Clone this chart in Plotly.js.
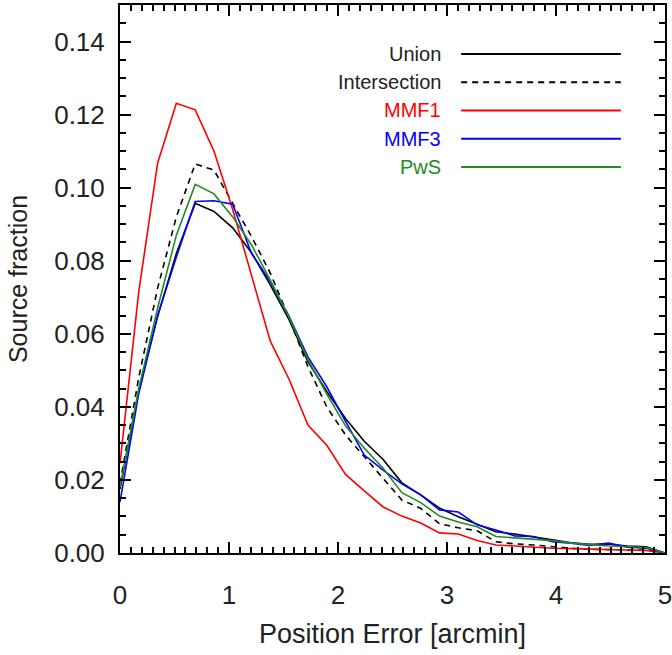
<!DOCTYPE html>
<html>
<head>
<meta charset="utf-8">
<script src="https://cdn.plot.ly/plotly-3.0.1.min.js"></script>
<style>
  html, body { margin: 0; padding: 0; background: #fff; }
  #chart { width: 672px; height: 655px; }
</style>
</head>
<body>
<div id="chart"></div>
<script>
// Position error bin values [arcmin]
const positionError = [0, 0.172, 0.345, 0.517, 0.690, 0.862, 1.034, 1.207, 1.379, 1.552,
  1.724, 1.897, 2.069, 2.241, 2.414, 2.586, 2.759, 2.931, 3.103, 3.276,
  3.448, 3.621, 3.793, 3.966, 4.138, 4.310, 4.483, 4.655, 4.828, 5.0];

const unionFrac = [0.0175, 0.0446, 0.0647, 0.0820, 0.0957, 0.0935, 0.0890, 0.0822, 0.0734, 0.0638,
  0.0524, 0.0442, 0.0368, 0.0306, 0.0256, 0.0192, 0.0159, 0.0123, 0.0099, 0.0078,
  0.0058, 0.0052, 0.0045, 0.0036, 0.0028, 0.0024, 0.0024, 0.0019, 0.0017, 0.0];

const intersectionFrac = [0.0190, 0.0480, 0.0725, 0.0920, 0.1065, 0.1048, 0.0957, 0.0866, 0.0766, 0.0643,
  0.0510, 0.0400, 0.0323, 0.0264, 0.0204, 0.0145, 0.0122, 0.0080, 0.0069, 0.0061,
  0.0031, 0.0025, 0.0022, 0.0017, 0.0013, 0.0010, 0.0009, 0.0009, 0.0008, 0.0];

const mmf1Frac = [0.0245, 0.0715, 0.1067, 0.1231, 0.1213, 0.1100, 0.0940, 0.0760, 0.0580, 0.0475,
  0.0350, 0.0295, 0.0215, 0.0170, 0.0126, 0.0101, 0.0082, 0.0055, 0.0052, 0.0034,
  0.0022, 0.0019, 0.0015, 0.0013, 0.0012, 0.0011, 0.0010, 0.0009, 0.0007, 0.0];

const mmf3Frac = [0.0140, 0.0436, 0.0650, 0.0810, 0.0962, 0.0964, 0.0955, 0.0820, 0.0743, 0.0647,
  0.0537, 0.0455, 0.0360, 0.0268, 0.0227, 0.0189, 0.0159, 0.0118, 0.0112, 0.0077,
  0.0063, 0.0047, 0.0045, 0.0031, 0.0027, 0.0021, 0.0027, 0.0016, 0.0013, 0.0];

const pwsFrac = [0.0180, 0.0450, 0.0670, 0.0870, 0.1009, 0.0983, 0.0920, 0.0843, 0.0747, 0.0645,
  0.0530, 0.0435, 0.0348, 0.0287, 0.0232, 0.0165, 0.0138, 0.0101, 0.0085, 0.0072,
  0.0045, 0.0042, 0.0038, 0.0034, 0.0027, 0.0022, 0.0019, 0.0017, 0.0015, 0.0];

const seriesNames = ['Union', 'Intersection', 'MMF1', 'MMF3', 'PwS'];
const seriesValues = [unionFrac, intersectionFrac, mmf1Frac, mmf3Frac, pwsFrac];
const seriesColors = ['#000000', '#000000', '#ff0000', '#0000ff', '#228b22'];
const seriesDash = ['solid', '6px,5px', 'solid', 'solid', 'solid'];

const yTickVals = [0, 0.02, 0.04, 0.06, 0.08, 0.10, 0.12, 0.14];
const xTickVals = [0, 1, 2, 3, 4, 5];

const FONT = 'Liberation Sans, Arial, Helvetica, sans-serif';
const TXT = '#222222';

const traces = seriesNames.map((n, i) => ({
  x: positionError,
  y: seriesValues[i],
  xaxis: 'x',
  yaxis: 'y',
  type: 'scatter',
  mode: 'lines',
  name: n,
  line: { color: seriesColors[i], width: 1.6, dash: seriesDash[i] },
  showlegend: false,
  hoverinfo: 'skip'
}));

// custom legend: right-aligned label, then a line sample
const legendTop = 0.9106, legendStep = 0.0515;
const annotations = [];
const shapes = [];
seriesNames.forEach((n, i) => {
  const yy = legendTop - i * legendStep;
  const col = (i < 2) ? TXT : seriesColors[i];
  annotations.push({
    xref: 'paper', yref: 'paper', x: 0.593, y: yy,
    xanchor: 'right', yanchor: 'middle', showarrow: false,
    text: n, font: { family: FONT, size: 20, color: col }
  });
  shapes.push({
    type: 'line', xref: 'paper', yref: 'paper',
    x0: 0.626, x1: 0.919, y0: yy, y1: yy,
    line: { color: seriesColors[i], width: 2, dash: seriesDash[i] }
  });
});

const layout = {
  width: 672,
  height: 655,
  margin: { l: 120, r: 7, t: 5, b: 102 },
  paper_bgcolor: '#fff',
  plot_bgcolor: '#fff',
  font: { family: FONT, color: TXT },
  // labelled x axis (transparent outside ticks used only to offset the labels)
  xaxis: {
    range: [0, 5],
    showgrid: false, zeroline: false,
    showline: true, linecolor: '#000', linewidth: 2,
    ticks: 'outside', ticklen: 18, tickcolor: 'rgba(0,0,0,0)',
    tickvals: xTickVals,
    ticktext: xTickVals.map(v => String(v)),
    ticklabeloverflow: 'allow',
    tickfont: { family: FONT, size: 26, color: TXT },
    title: { text: 'Position Error [arcmin]', font: { family: FONT, size: 27, color: TXT }, standoff: 15 }
  },
  // overlay x axis carrying the inside major/minor ticks on bottom and top
  xaxis2: {
    overlaying: 'x',
    matches: 'x',
    range: [0, 5],
    showgrid: false, zeroline: false,
    showline: true, linecolor: '#000', linewidth: 2,
    mirror: 'ticks',
    ticks: 'inside', ticklen: 11, tickwidth: 2, tickcolor: '#000',
    tickvals: xTickVals,
    showticklabels: false,
    minor: { dtick: 0.1, ticks: 'inside', ticklen: 6, tickwidth: 2, tickcolor: '#000' }
  },
  yaxis: {
    range: [0, 0.15],
    showgrid: false, zeroline: false,
    showline: true, linecolor: '#000', linewidth: 2,
    mirror: 'ticks',
    ticks: 'inside', ticklen: 11, tickwidth: 2, tickcolor: '#000',
    tickvals: yTickVals,
    ticktext: yTickVals.map(v => v.toFixed(2)),
    ticklabelstandoff: 8,
    tickfont: { family: FONT, size: 26, color: TXT },
    minor: { dtick: 0.005, ticks: 'inside', ticklen: 6, tickwidth: 2, tickcolor: '#000' },
    title: { text: 'Source fraction', font: { family: FONT, size: 25, color: TXT }, standoff: 19 }
  },
  annotations: annotations,
  shapes: shapes,
  showlegend: false
};

// invisible empty trace to activate the tick-carrying overlay axis
traces.push({ x: [], y: [], xaxis: 'x2', yaxis: 'y', type: 'scatter', mode: 'lines', showlegend: false, hoverinfo: 'skip' });

Plotly.newPlot('chart', traces, layout, { staticPlot: true, displayModeBar: false });
</script>
</body>
</html>
